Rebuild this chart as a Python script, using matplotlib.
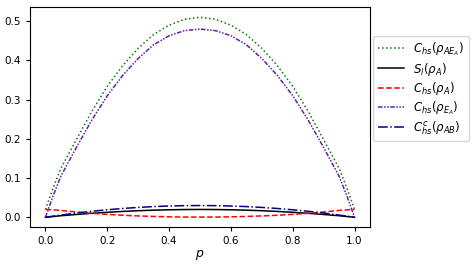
import matplotlib
matplotlib.use("Agg")
import matplotlib.pyplot as plt

# значения
p = [0.0, 0.025, 0.05, 0.1, 0.15, 0.2, 0.25, 0.3, 0.35, 0.4, 0.45, 0.5,
     0.55, 0.6, 0.65, 0.7, 0.75, 0.8, 0.85, 0.9, 0.95, 0.975, 1.0]

c_hs_AEA = [0.02, 0.075, 0.125, 0.198, 0.27, 0.334, 0.387, 0.431, 0.466, 0.49, 0.505, 0.51,
            0.505, 0.49, 0.466, 0.431, 0.387, 0.334, 0.27, 0.198, 0.125, 0.075, 0.02]
s_l_A = [0.0, 0.002, 0.004, 0.0072, 0.0102, 0.0128, 0.015, 0.0168, 0.0182, 0.0192, 0.0198, 0.02,
         0.0198, 0.0192, 0.0182, 0.0168, 0.015, 0.0128, 0.0102, 0.0072, 0.004, 0.002, 0.0]
c_hs_A = [0.02, 0.019, 0.0175, 0.0135, 0.0102, 0.0075, 0.0052, 0.0035, 0.0022, 0.0012, 0.0006, 0.0005,
          0.0006, 0.0012, 0.0022, 0.0035, 0.0052, 0.0075, 0.0102, 0.0135, 0.0175, 0.019, 0.02]
c_hs_EA = [0.0, 0.055, 0.105, 0.178, 0.248, 0.31, 0.362, 0.405, 0.44, 0.463, 0.476, 0.48,
           0.476, 0.463, 0.44, 0.405, 0.362, 0.31, 0.248, 0.178, 0.105, 0.055, 0.0]
c_hs_c_AB = [0.0, 0.003, 0.0057, 0.0108, 0.0153, 0.0192, 0.0225, 0.0252, 0.0273, 0.0288, 0.0297, 0.03,
             0.0297, 0.0288, 0.0273, 0.0252, 0.0225, 0.0192, 0.0153, 0.0108, 0.0057, 0.003, 0.0]

plt.rcParams['font.size'] = 7.5

fig = plt.figure(figsize=(4.77, 2.68), dpi=100)
ax = fig.add_axes([30 / 477, 1 - 227.3 / 268, 340 / 477, 220 / 268])

lw = 1.1
ax.plot(p, c_hs_AEA, color="green", linestyle=":", lw=lw, label=r"$C_{hs}(\rho_{AE_A})$")
ax.plot(p, s_l_A, color="black", linestyle="-", lw=lw, label=r"$S_l(\rho_A)$")
ax.plot(p, c_hs_A, color="red", linestyle="--", lw=lw, label=r"$C_{hs}(\rho_A)$")
ax.plot(p, c_hs_EA, color="#6420a8", linestyle=(0, (3, 1, 1, 1, 1, 1)), lw=lw,
        label=r"$C_{hs}(\rho_{E_A})$")
ax.plot(p, c_hs_c_AB, color="darkblue", linestyle="-.", lw=lw, label=r"$C^c_{hs}(\rho_{AB})$")

ax.set_xlabel(r"$p$", fontsize=9, labelpad=1)
ax.set_yticks([0.0, 0.1, 0.2, 0.3, 0.4, 0.5])
ax.tick_params(labelsize=7.5, length=3)

ax.legend(loc="upper left", bbox_to_anchor=(1.009, 0.87), borderaxespad=0,
          fontsize=8.5, handlelength=2.2, labelspacing=0.2)

fig.savefig("out.png", dpi=100)
